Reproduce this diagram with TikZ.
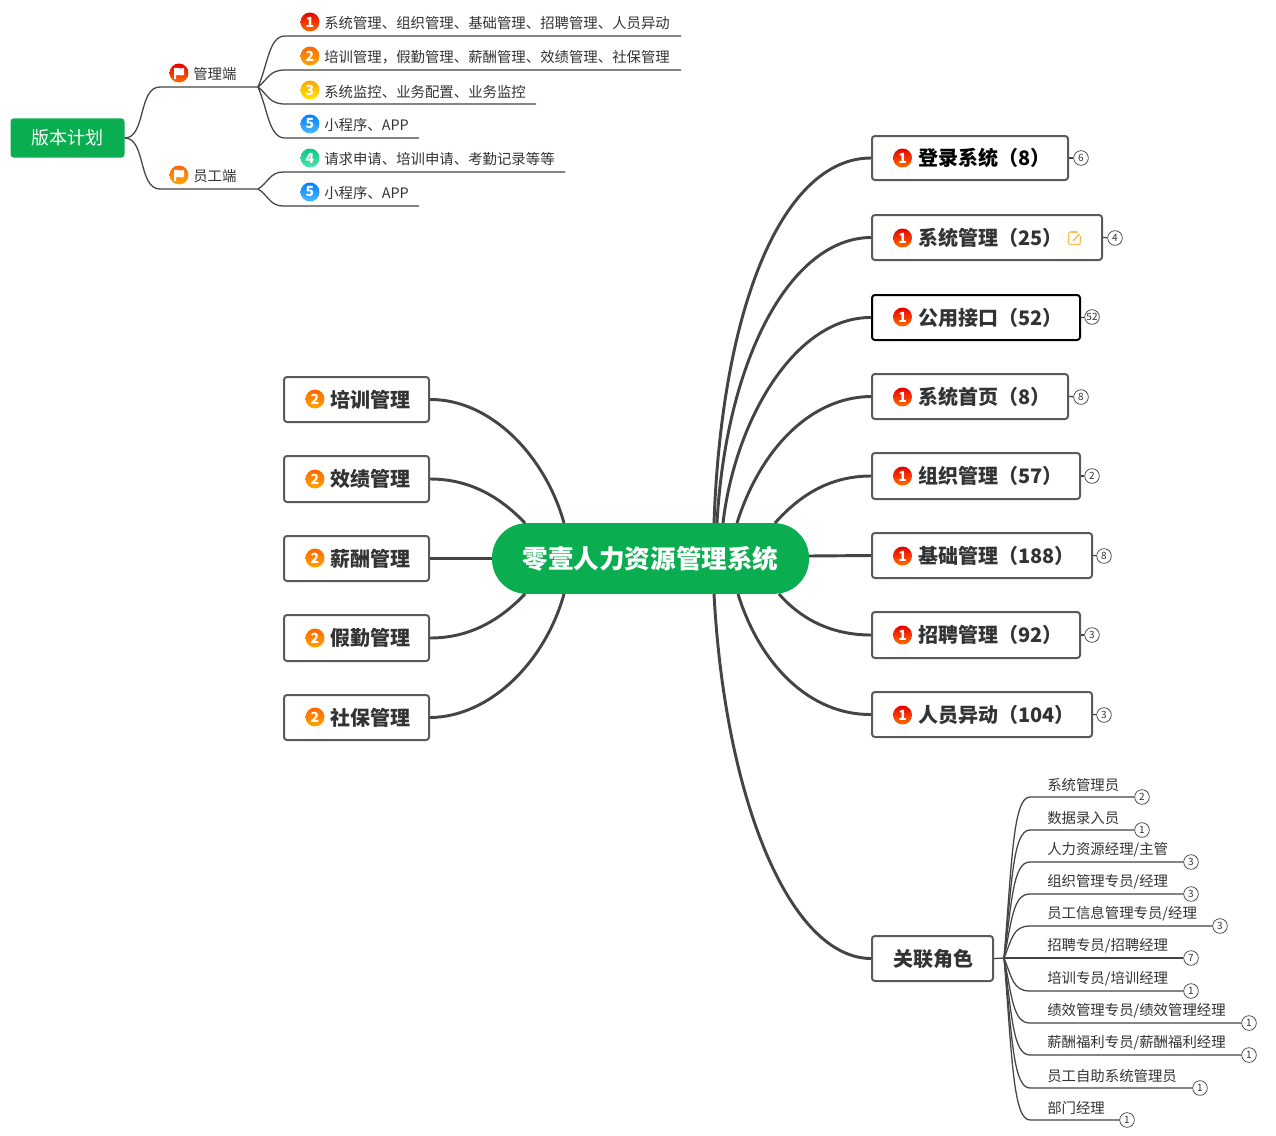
\documentclass[tikz,border=0pt]{standalone}
\usepackage{fontspec}
\setmainfont{Noto Sans CJK SC}
\usetikzlibrary{calc}
\definecolor{hubgreen}{HTML}{0AAE50}
\definecolor{linegray}{HTML}{444444}
\definecolor{boxgray}{HTML}{5A5A5A}
\definecolor{txtgray}{HTML}{333333}
\definecolor{noteor}{HTML}{FFB84D}
\definecolor{tealtop}{HTML}{0CC684}
\definecolor{tealbot}{HTML}{4FE3AE}
\tikzset{
  mainline/.style={draw=linegray,line width=2.2pt},
  thinline/.style={draw=linegray,line width=0.95pt},
  topicbox/.style={draw=boxgray,fill=white,line width=1.5pt,rounded corners=2.2pt,inner xsep=0pt,inner ysep=0pt,align=left,font=\fontsize{15}{18}\selectfont\bfseries,text=txtgray},
  leaftext/.style={font=\fontsize{10.8}{13}\selectfont,text=txtgray,inner sep=0pt,anchor=west},
  countnode/.style={circle,draw=linegray,fill=white,line width=0.55pt,minimum size=11pt,inner sep=0pt,font=\fontsize{7.5}{8}\selectfont,text=txtgray},
  badge/.style={circle,minimum size=14.2pt,inner sep=0pt,text=white,font=\fontsize{10.5}{10.5}\selectfont\bfseries},
  b1/.style={badge,top color=red!90!black,bottom color=orange!85!red},
  b2/.style={badge,top color=orange!80!red,bottom color=orange!70!yellow},
  b3/.style={badge,top color=orange!70!yellow,bottom color=yellow!80!orange},
  b4/.style={badge,top color=tealtop,bottom color=tealbot},
  b5/.style={badge,top color=blue!50!cyan,bottom color=cyan!60!blue!70},
}
% name, x0, x1, y0, y1, text offset, text, style extras
\newcommand\topicnode[8]{%
  \pgfmathsetmacro\tw{(#3-#2)*0.75}\pgfmathsetmacro\th{(#5-#4)*0.75}%
  \node[topicbox,anchor=center,text width=\tw pt,minimum height=\th pt,#8] (#1) at ({(#2+#3)/2},{(#4+#5)/2}) {\hspace*{#6pt}#7};%
}
\begin{document}
\begin{tikzpicture}[x=0.75pt,y=-0.75pt]
\useasboundingbox (0,0) rectangle (1276,1135);

% central topic
\node[fill=hubgreen,rounded corners=26pt,minimum width=237.75pt,minimum height=53pt,inner sep=0pt,text=white,font=\fontsize{19.2}{22}\selectfont\bfseries] (hub) at (650.5,558.5) {零壹人力资源管理系统};

% right topics
\topicnode{t1}{872}{1068}{136}{180}{34.5}{登录系统（8）}{text=black}
\topicnode{t2}{872}{1102}{215}{260}{34.5}{系统管理（25）}{}
\topicnode{t3}{872}{1080}{295}{340}{34.5}{公用接口（52）}{draw=black}
\topicnode{t4}{872}{1068}{374}{419}{34.5}{系统首页（8）}{}
\topicnode{t5}{872}{1080}{453}{499}{34.5}{组织管理（57）}{}
\topicnode{t6}{872}{1092}{533}{578}{34.5}{基础管理（188）}{}
\topicnode{t7}{872}{1080}{612}{658}{34.5}{招聘管理（92）}{}
\topicnode{t8}{872}{1092}{692}{737}{34.5}{人员异动（104）}{}
\topicnode{t9}{872}{993}{936}{981}{15.75}{关联角色}{}

\foreach \y/\n in {158/a,238/b,317/c,397/d,476/e,556/f,635/g,715/h}
  \node[b1] (bd\n) at (902.5,\y) {1};

% counts of right topics
\foreach \n/\x/\y/\c in {t1/1081/158/6,t2/1115/238/4,t3/1092/317/52,t4/1081/397/8,t5/1092/476/2,t6/1104/556/8,t7/1092/635/3,t8/1104/715/3}{
  \node[countnode] (c\n) at (\x,\y) {\c};
  \draw[thinline] (\n.east) -- (c\n);
}

% left topics
\topicnode{s1}{284}{429}{377}{422}{34.5}{培训管理}{}
\topicnode{s2}{284}{429}{456}{502}{34.5}{效绩管理}{}
\topicnode{s3}{284}{429}{536}{581}{34.5}{薪酬管理}{}
\topicnode{s4}{284}{429}{615}{661}{34.5}{假勤管理}{}
\topicnode{s5}{284}{429}{695}{740}{34.5}{社保管理}{}
\foreach \y/\n in {399/a,479/b,558/c,638/d,717/e}
  \node[b2] (bs\n) at (315,\y) {2};

% anchor points on the central topic
\coordinate (u1) at (714,523);
\coordinate (u2) at (717,523);
\coordinate (u3) at (723,523);
\coordinate (u4) at (737,523);
\coordinate (u5) at (775,523);
\coordinate (rr) at (809,556);
\coordinate (d7) at (779,594);
\coordinate (d8) at (738,594);
\coordinate (d9) at (714,594);
\coordinate (ul1) at (564,523);
\coordinate (ul2) at (525,523);
\coordinate (dl4) at (525,594);
\coordinate (dl5) at (564,594);

% main connectors, right
\draw[mainline] (u1) .. controls (722,300) and (785,158) .. (t1.west);
\draw[mainline] (u2) .. controls (726,360) and (790,238) .. (t2.west);
\draw[mainline] (u3) .. controls (735,420) and (795,317) .. (t3.west);
\draw[mainline] (u4) .. controls (760,450) and (810,397) .. (t4.west);
\draw[mainline] (u5) .. controls (800,495) and (830,476) .. (t5.west);
\draw[mainline] (rr) -- (t6.west);
\draw[mainline] (d7) .. controls (800,618) and (830,635) .. (t7.west);
\draw[mainline] (d8) .. controls (760,665) and (810,715) .. (t8.west);
\draw[mainline] (d9) .. controls (725,800) and (790,958) .. (t9.west);

% main connectors, left
\draw[mainline] (s1.east) .. controls (490,399) and (545,455) .. (ul1);
\draw[mainline] (s2.east) .. controls (470,479) and (500,497) .. (ul2);
\draw[mainline] (s3.east) -- (hub.west);
\draw[mainline] (s4.east) .. controls (470,638) and (500,620) .. (dl4);
\draw[mainline] (s5.east) .. controls (490,717) and (545,662) .. (dl5);

% note icon in topic t2
\draw[noteor,line width=0.85pt,rounded corners=1.2pt] (1080.5,236) -- (1080.5,244.5) -- (1068.5,244.5) -- (1068.5,232) -- (1078,232);
\draw[noteor,line width=1.2pt] (1071,232) -- (1077,232);
\draw[noteor,line width=1pt] (1073,241) -- (1079.5,234);

% version plan
\node[fill=hubgreen,rounded corners=2.5pt,minimum width=85.5pt,minimum height=29.5pt,inner sep=0pt,text=white,font=\fontsize{13.5}{16}\selectfont] (plan) at (67.5,138) {版本计划};
\coordinate (m0) at (160,87);
\coordinate (m1) at (258,87);
\coordinate (e0) at (160,189);
\coordinate (e1) at (258,189);
\draw[thinline] (plan.east) .. controls (146,138) and (138,87) .. (m0) -- (m1);
\draw[thinline] (plan.east) .. controls (146,138) and (138,189) .. (e0) -- (e1);
\node[b1] (fm) at (179,73) {};
\node[b2] (fe) at (179,175) {};
\foreach \n in {fm,fe}
  \fill[white] ($(\n)+(-5,-5)$) .. controls ($(\n)+(-2,-6)$) and ($(\n)+(1,-3.5)$) .. ($(\n)+(5,-5)$) -- ($(\n)+(5,2)$) .. controls ($(\n)+(1,3.5)$) and ($(\n)+(-1,1)$) .. ($(\n)+(-3,2)$) -- ($(\n)+(-3,6)$) -- ($(\n)+(-5,6)$) -- cycle;
\node[leaftext] (mt) at (193,74) {管理端};
\node[leaftext] (et) at (193,176) {员工端};

% plan leaves
\foreach \y/\e/\b/\c/\t [count=\i] in {
  36/681/1/1/系统管理、组织管理、基础管理、招聘管理、人员异动,
  70/681/2/2/{培训管理，假勤管理、薪酬管理、效绩管理、社保管理},
  104/536/3/3/系统监控、业务配置、业务监控,
  138/419/5/5/小程序、APP}{
  \node[b\b] (pb\i) at (310,\y-14) {\c};
  \node[leaftext] (pt\i) at (324,\y-12.5) {\t};
  \coordinate (pa\i) at (285,\y);
  \coordinate (pz\i) at (\e,\y);
  \draw[thinline] (m1) .. controls (268,{87+(\y-87)*0.45}) and (269,\y) .. (pa\i) -- (pz\i);
}
\foreach \y/\e/\b/\c/\t [count=\i] in {
  172/565/4/4/请求申请、培训申请、考勤记录等等,
  206/419/5/5/小程序、APP}{
  \node[b\b] (qb\i) at (310,\y-14) {\c};
  \node[leaftext] (qt\i) at (324,\y-12.5) {\t};
  \coordinate (qa\i) at (283,\y);
  \coordinate (qz\i) at (\e,\y);
  \draw[thinline] (e1) .. controls (268,{189+(\y-189)*0.35}) and (270,\y) .. (qa\i) -- (qz\i);
}

% roles
\coordinate (rh) at (1004,958);
\draw[thinline] (t9.east) -- (rh);
\foreach \y/\x/\c/\t [count=\i] in {
  797/1142/2/系统管理员,
  830/1142/1/数据录入员,
  862/1191/3/{人力资源经理/主管},
  894/1191/3/{组织管理专员/经理},
  926/1220/3/{员工信息管理专员/经理},
  958/1191/7/{招聘专员/招聘经理},
  991/1191/1/{培训专员/培训经理},
  1023/1249/1/{绩效管理专员/绩效管理经理},
  1055/1249/1/{薪酬福利专员/薪酬福利经理},
  1088/1200/1/员工自助系统管理员,
  1120/1127/1/部门经理}{
  \node[leaftext] (rt\i) at (1047,\y-12) {\t};
  \node[countnode] (rc\i) at (\x,\y) {\c};
  \coordinate (ra\i) at (1030,\y);
  \draw[thinline] (rh) .. controls (1012,{958+(\y-958)*0.6}) and (1013,\y) .. (ra\i) -- (rc\i);
}
\end{tikzpicture}
\end{document}
